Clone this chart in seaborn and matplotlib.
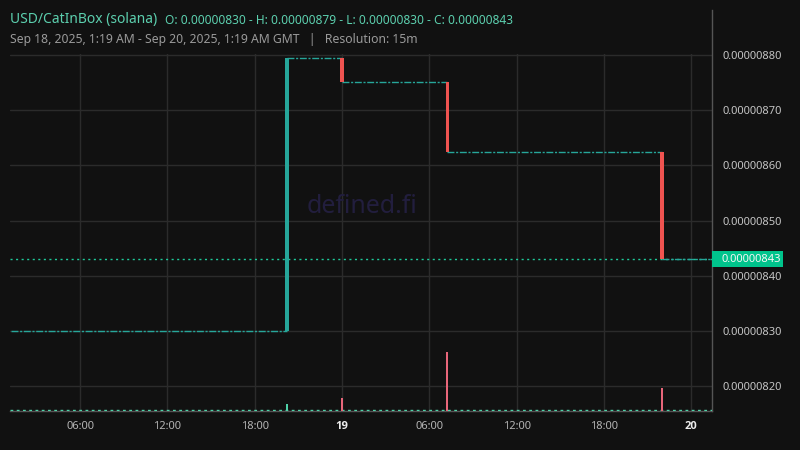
import pandas as pd
import numpy as np
import seaborn as sns
import matplotlib.pyplot as plt
from matplotlib.patches import Rectangle
from matplotlib.transforms import blended_transform_factory

# 15m candles where the price actually moved; every other candle is flat (O=H=L=C)
candle_times = pd.to_datetime(['2025-09-18 20:15', '2025-09-19 00:00',
                               '2025-09-19 07:15', '2025-09-19 22:00'])
candle_open = [8.300e-6, 8.795e-6, 8.751e-6, 8.624e-6]
candle_close = [8.795e-6, 8.751e-6, 8.624e-6, 8.430e-6]
candle_volume = [1.2, 2.2, 10.0, 3.9]
flat_volume = 0.12

range_start = pd.Timestamp('2025-09-18 01:15')
range_end = pd.Timestamp('2025-09-20 01:30')
last_price = 8.43e-6

price_ticks = [8.2e-6, 8.3e-6, 8.4e-6, 8.5e-6, 8.6e-6, 8.7e-6, 8.8e-6]
time_ticks = pd.to_datetime(['2025-09-18 06:00', '2025-09-18 12:00', '2025-09-18 18:00',
                             '2025-09-19 00:00', '2025-09-19 06:00', '2025-09-19 12:00',
                             '2025-09-19 18:00', '2025-09-20 00:00'])
time_labels = ['06:00', '12:00', '18:00', '19', '06:00', '12:00', '18:00', '20']

BG = '#111111'
GRID = '#2b2b2b'
UP = '#26a69a'
DOWN = '#ef5350'
TEAL_TXT = '#5ccfae'

sns.set_theme(style='dark', rc={
    'figure.facecolor': BG, 'axes.facecolor': BG, 'savefig.facecolor': BG,
    'axes.edgecolor': '#4a4a4a', 'grid.color': GRID,
})
plt.rcParams['font.family'] = ['Noto Sans', 'DejaVu Sans']

fig = plt.figure(figsize=(8, 4.5), dpi=100)
ax = fig.add_axes([10 / 800, 39 / 450, 702 / 800, 401 / 450])
vax = ax.twinx()

# flat stretches between the moves
seg_start = [range_start] + list(candle_times)
seg_end = list(candle_times) + [range_end]
seg_level = [candle_open[0]] + candle_close
ax.hlines(seg_level, seg_start, seg_end, color=UP, lw=1,
          linestyles=[(0, (5, 1.2, 1.5, 1.2))], zorder=3)

# candles that moved
width = pd.Timedelta(minutes=15) / pd.Timedelta(days=1) * 1.05
colors = [UP if c >= o else DOWN for o, c in zip(candle_open, candle_close)]
ax.bar(candle_times, np.array(candle_close) - np.array(candle_open),
       bottom=candle_open, width=width, color=colors, linewidth=0, zorder=4)

# last price line
ax.axhline(last_price, color='#1fc99a', lw=1, ls=(0, (1.5, 2.5)), zorder=2)

ax.set_xlim(pd.Timestamp('2025-09-18 01:11'), pd.Timestamp('2025-09-20 01:26'))
ax.set_ylim(8.1545e-6, 8.8818e-6)
ax.set_xticks(time_ticks)
ax.set_xticklabels(time_labels)
ax.set_yticks(price_ticks)
ax.set_yticklabels([f'{p:.8f}' for p in price_ticks])
ax.tick_params(axis='x', length=0, pad=7, labelsize=8, colors='#b4b4b4')
ax.tick_params(axis='y', length=0, pad=7.5, labelsize=8, colors='#c4c4c4')
ax.grid(True, color=GRID, lw=1)
ax.set_axisbelow(True)
for s in ['top', 'left']:
    ax.spines[s].set_visible(False)
for s in ['right', 'bottom']:
    ax.spines[s].set_color('#555555')
    ax.spines[s].set_linewidth(1)

# header area hides the grid above the top price line
blend = blended_transform_factory(ax.transAxes, ax.transData)
ax.add_patch(Rectangle((0, 8.802e-6), 0.999, 0.1e-6, transform=blend,
                       facecolor=BG, edgecolor='none', zorder=1))

# volume
vax.bar(candle_times, candle_volume, width=width * 0.55, linewidth=0,
        color=['#4fd1a8' if c == UP else '#e8667a' for c in colors], zorder=3)
vax.axhline(flat_volume, color='#4fd1a8', lw=1, ls=(0, (2, 2.5)), zorder=2)
vax.set_ylim(0, 68)
vax.set_yticks([])
vax.grid(False)
for s in vax.spines.values():
    s.set_visible(False)
ax.yaxis.tick_right()

for lbl, txt in zip(ax.get_xticklabels(), time_labels):
    if ':' not in txt:
        lbl.set_family(['Open Sans', 'DejaVu Sans'])
        lbl.set_fontweight('bold')
        lbl.set_color('#ececec')

# last price tag
px = (8.8818e-6 - 8.1545e-6) / 401
ax.add_patch(Rectangle((1.0, last_price - 8 * px), 71 / 702, 16 * px, transform=blend,
                       facecolor='#00c48c', edgecolor='none', clip_on=False, zorder=5))
ax.text(1.0 + 10 / 702, last_price, f'{last_price:.8f}', transform=blend,
        ha='left', va='center', fontsize=8, color='#f6f6f6', zorder=6, clip_on=False)

# watermark
ax.text(0.501, 0.511, 'defined.fi', transform=ax.transAxes, ha='center', va='center',
        fontsize=18, color='#221e3e', zorder=1.5)

fig.text(10 / 800, 1 - 20 / 450, 'USD/CatInBox (solana)', fontsize=10,
         color=TEAL_TXT, va='center')
fig.text(165 / 800, 1 - 20 / 450,
         'O: 0.00000830 - H: 0.00000879 - L: 0.00000830 - C: 0.00000843',
         fontsize=8.6, color=TEAL_TXT, va='center')
fig.text(10 / 800, 1 - 40 / 450,
         'Sep 18, 2025, 1:19 AM - Sep 20, 2025, 1:19 AM GMT   |   Resolution: 15m',
         fontsize=8.8, color='#9a9a9a', va='center')

fig.savefig('out.png', dpi=100)
